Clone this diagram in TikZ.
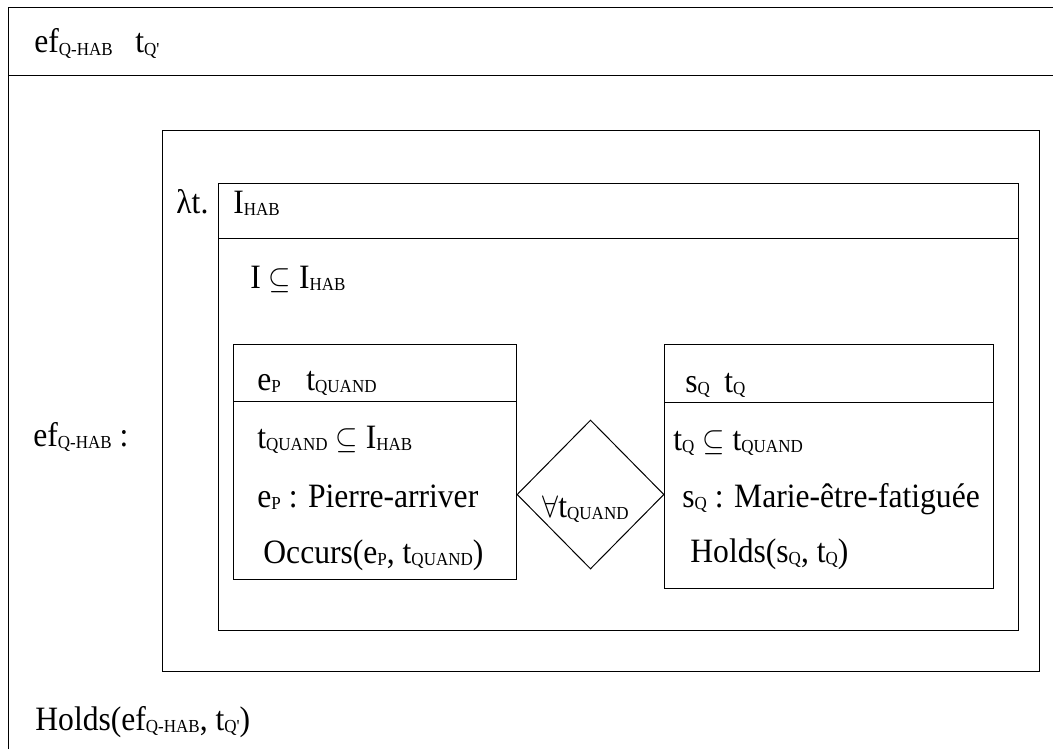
\documentclass[tikz,border=0pt]{standalone}
\usepackage{graphicx}
\usepackage{fontspec}
\setmainfont{Liberation Serif}
\usetikzlibrary{shapes.geometric}
\newcommand\sbs[1]{\raisebox{-1pt}{\fontsize{8.5}{10}\selectfont #1}}
\newcommand\T[1]{\scalebox{1}[1.08]{#1}}
\begin{document}
\begin{tikzpicture}[x=0.5pt,y=-0.5pt,
  txt/.style={anchor=base west, inner sep=0pt, font=\fontsize{15.8}{19}\selectfont},
  box/.style={draw, line width=0.5pt}]
\useasboundingbox (0,0) rectangle (1053,749);
% outer frame (cut by the page on the right and bottom)
\draw[box] (8,749) -- (8,8) -- (1053,8);
\draw[box] (8,76) -- (1053,76);
% ef box
\draw[box] (162,130) rectangle (1039,671);
% lambda box
\draw[box] (218,183) rectangle (1018,630);
\draw[box] (218,238) -- (1018,238);
% e_P box
\draw[box] (233,344) rectangle (516,579);
\draw[box] (233,401) -- (516,401);
% s_Q box
\draw[box] (664,344) rectangle (993,588);
\draw[box] (664,402) -- (993,402);
% diamond
\node[diamond, draw, line width=0.5pt, inner sep=0pt, minimum width=73.5pt, minimum height=74.5pt] (dia) at (590.5,494.5) {};
% texts
\node[txt] (hdr) at (34,53) {\T{ef\sbs{Q-HAB}}};
\node[txt] (hdrt) at (135,53) {\T{t\sbs{Q\textquotesingle}}};
\node[txt] (efl) at (33,446) {\T{ef\sbs{Q-HAB} :}};
\node[txt] (lam) at (176,213) {\T{λt.}};
\node[txt] (ihab) at (233,213) {\T{I\sbs{HAB}}};
\node[txt] (isub) at (250,288) {\T{I $\subseteq$ I\sbs{HAB}}};
\node[txt] (ep) at (257,390) {\T{e\sbs{P}}};
\node[txt] (tq) at (306,390) {\T{t\sbs{QUAND}}};
\node[txt] (tqsub) at (257,448) {\T{t\sbs{QUAND} $\subseteq$ I\sbs{HAB}}};
\node[txt] (epdef) at (257,507) {\T{e\sbs{P} : Pierre-arriver}};
\node[txt] (occ) at (263,563) {\T{Occurs(e\sbs{P}, t\sbs{QUAND})}};
\node[txt] (all) at (542,517) {\T{$\forall$t\sbs{QUAND}}};
\node[txt] (sq) at (685,392) {\T{s\sbs{Q}}};
\node[txt] (tqq) at (724,392) {\T{t\sbs{Q}}};
\node[txt] (tqin) at (673,450) {\T{t\sbs{Q} $\subseteq$ t\sbs{QUAND}}};
\node[txt] (sqdef) at (682,507) {\T{s\sbs{Q} : Marie-être-fatiguée}};
\node[txt] (hsq) at (690,562) {\T{Holds(s\sbs{Q}, t\sbs{Q})}};
\node[txt] (hef) at (35,730) {\T{Holds(ef\sbs{Q-HAB}, t\sbs{Q\textquotesingle})}};
\end{tikzpicture}
\end{document}
